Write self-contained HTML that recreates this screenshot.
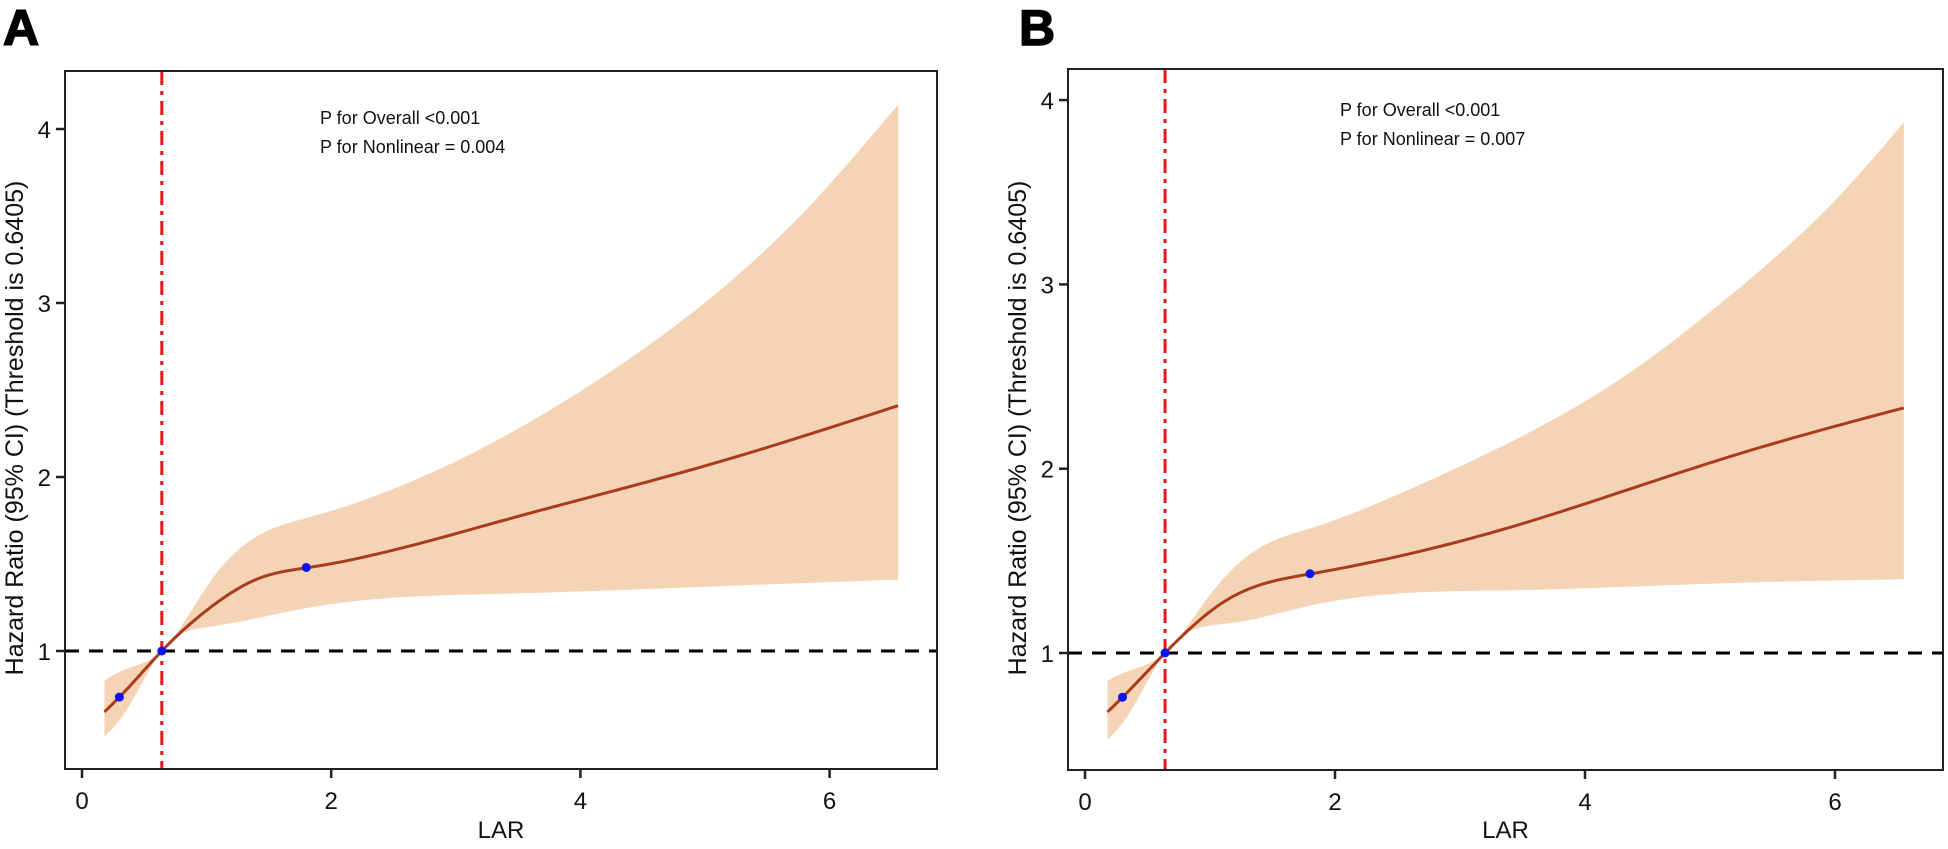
<!DOCTYPE html>
<html><head><meta charset="utf-8"><style>
body{margin:0;background:#fff;width:1948px;height:844px;overflow:hidden}
svg{font-family:"Liberation Sans",Arial,sans-serif}
</style></head><body>
<svg id="c" width="1948" height="844"></svg>
<script>
// Panel A data
const hrXA=[0.18,0.3,0.6405,1.03,1.43,1.82,3.43,5.03,6.55];
const hrA=[0.65,0.735,1.0,1.25,1.42,1.48,1.76,2.07,2.41];
const upXA=[0.18,0.3,0.6405,1.03,1.43,1.83,2.63,3.43,4.23,5.03,5.83,6.55];
const upA=[0.83,0.88,1.0,1.40,1.67,1.77,1.97,2.25,2.60,3.02,3.55,4.14];
const loXA=[0.18,0.3,0.6405,1.03,1.83,3.43,5.03,6.55];
const loA=[0.51,0.60,1.0,1.14,1.25,1.33,1.37,1.41];
const ptsXA=[0.3,0.6405,1.8];
const ptsYA=[0.735,1.0,1.48];
// Panel B data
const hrXB=[0.18,0.3,0.6405,1.14,1.81,3.39,5.18,6.55];
const hrB=[0.68,0.76,1.0,1.29,1.43,1.68,2.07,2.33];
const upXB=[0.18,0.3,0.6405,0.97,1.37,1.82,2.50,3.39,4.29,5.18,6.09,6.55];
const upB=[0.85,0.89,1.0,1.29,1.56,1.68,1.86,2.14,2.49,2.95,3.52,3.88];
const loXB=[0.18,0.3,0.6405,1.14,1.82,3.39,5.18,6.55];
const loB=[0.53,0.62,1.0,1.16,1.26,1.34,1.38,1.40];
const ptsXB=[0.3,0.6405,1.8];
const ptsYB=[0.76,1.0,1.43];
const xTicks=[0,2,4,6];
const yTicks=[1,2,3,4];
const threshold=0.6405;
const NS='http://www.w3.org/2000/svg';
const svg=document.getElementById('c');
function el(t,a,p){const e=document.createElementNS(NS,t);for(const k in a)e.setAttribute(k,a[k]);(p||svg).appendChild(e);return e;}
// natural cubic spline sampled densely
function spline(xs,ys){const n=xs.length,h=[],al=[],l=[1],mu=[0],z=[0],c=new Array(n).fill(0),b=[],d=[];
  for(let i=0;i<n-1;i++)h.push(xs[i+1]-xs[i]);
  for(let i=1;i<n-1;i++)al[i]=3/h[i]*(ys[i+1]-ys[i])-3/h[i-1]*(ys[i]-ys[i-1]);
  for(let i=1;i<n-1;i++){l[i]=2*(xs[i+1]-xs[i-1])-h[i-1]*mu[i-1];mu[i]=h[i]/l[i];z[i]=(al[i]-h[i-1]*z[i-1])/l[i];}
  for(let j=n-2;j>=0;j--){c[j]=(j>0?z[j]:0)-mu[j]*c[j+1];b[j]=(ys[j+1]-ys[j])/h[j]-h[j]*(c[j+1]+2*c[j])/3;d[j]=(c[j+1]-c[j])/(3*h[j]);}
  const out=[];for(let i=0;i<n-1;i++){for(let k=0;k<20;k++){const t=h[i]*k/20;out.push([xs[i]+t,ys[i]+b[i]*t+c[i]*t*t+d[i]*t*t*t]);}}
  out.push([xs[n-1],ys[n-1]]);return out;}
function panel(o){
  const g=el('g',{});
  
  
  const X=v=>o.x0+v*o.kx, Y=v=>o.y1-(v-1)*o.ky;
  const P=a=>a.map(p=>X(p[0]).toFixed(1)+','+Y(p[1]).toFixed(1));
  const up=P(spline(o.upX,o.up)), lo=P(spline(o.loX,o.lo)).reverse();
  const band=el('path',{d:'M'+up.join(' L')+' L'+lo.join(' L')+' Z',fill:'#f5d3b5'},g);
  
  const hl=el('line',{x1:o.L,x2:o.R,y1:Y(1),y2:Y(1),stroke:'#000','stroke-width':3,'stroke-dasharray':'14 10'},g);
  
  const ln=el('path',{d:'M'+P(spline(o.hrX,o.hr)).join(' L'),fill:'none',stroke:'#a83c1c','stroke-width':3},g);
  
  const vl=el('line',{x1:X(threshold),x2:X(threshold),y1:o.T,y2:o.B,stroke:'#e8161b','stroke-width':3,'stroke-dasharray':'14 6 4 6'},g);
  
  o.px.forEach((x,i)=>{const c=el('circle',{cx:X(x),cy:Y(o.py[i]),r:4.5,fill:'#0a14f0'},g);
    });
  const box=el('rect',{x:o.L,y:o.T,width:o.R-o.L,height:o.B-o.T,fill:'none',stroke:'#222','stroke-width':2},g);
  
  xTicks.forEach(t=>{el('line',{x1:X(t),x2:X(t),y1:o.B,y2:o.B+9,stroke:'#222','stroke-width':2.5},g);
    const tx=el('text',{x:X(t),y:o.B+40,'font-size':24,'text-anchor':'middle',fill:'#111'},g);tx.textContent=t;
    });
  yTicks.forEach(t=>{el('line',{x1:o.L-9,x2:o.L,y1:Y(t),y2:Y(t),stroke:'#222','stroke-width':2.5},g);
    const tx=el('text',{x:o.L-14,y:Y(t)+9,'font-size':24,'text-anchor':'end',fill:'#111'},g);tx.textContent=t;
    });
  const xt=el('text',{x:(o.L+o.R)/2,y:838,'font-size':24,'text-anchor':'middle',fill:'#111'},g);xt.textContent='LAR';
  
  const yt=el('text',{x:0,y:0,'font-size':25,'text-anchor':'middle',fill:'#111',transform:`translate(${o.L-42},428) rotate(-90)`},g);
  yt.textContent='Hazard Ratio (95% CI) (Threshold is 0.6405)';
  
  const a1=el('text',{x:o.ax,y:o.ay,'font-size':18,fill:'#111'},g);a1.textContent='P for Overall <0.001';
  
  const a2=el('text',{x:o.ax,y:o.ay+29,'font-size':18,fill:'#111'},g);a2.textContent=o.pnl;
  
  const lt=el('text',{x:o.lx,y:45,'font-size':50,'font-weight':'900',fill:'#000',stroke:'#000','stroke-width':1.5},g);lt.textContent=o.letter;
  
}
panel({name:'panel-a',L:65,R:937,T:71,B:769,x0:82,kx:124.6,y1:651,ky:174,hrX:hrXA,hr:hrA,upX:upXA,up:upA,loX:loXA,lo:loA,px:ptsXA,py:ptsYA,ax:320,ay:124,pnl:'P for Nonlinear = 0.004',letter:'A',lx:3});
panel({name:'panel-b',L:1068,R:1943,T:69,B:770,x0:1085,kx:125,y1:653,ky:184.3,hrX:hrXB,hr:hrB,upX:upXB,up:upB,loX:loXB,lo:loB,px:ptsXB,py:ptsYB,ax:1340,ay:116,pnl:'P for Nonlinear = 0.007',letter:'B',lx:1019});
</script>
</body></html>
